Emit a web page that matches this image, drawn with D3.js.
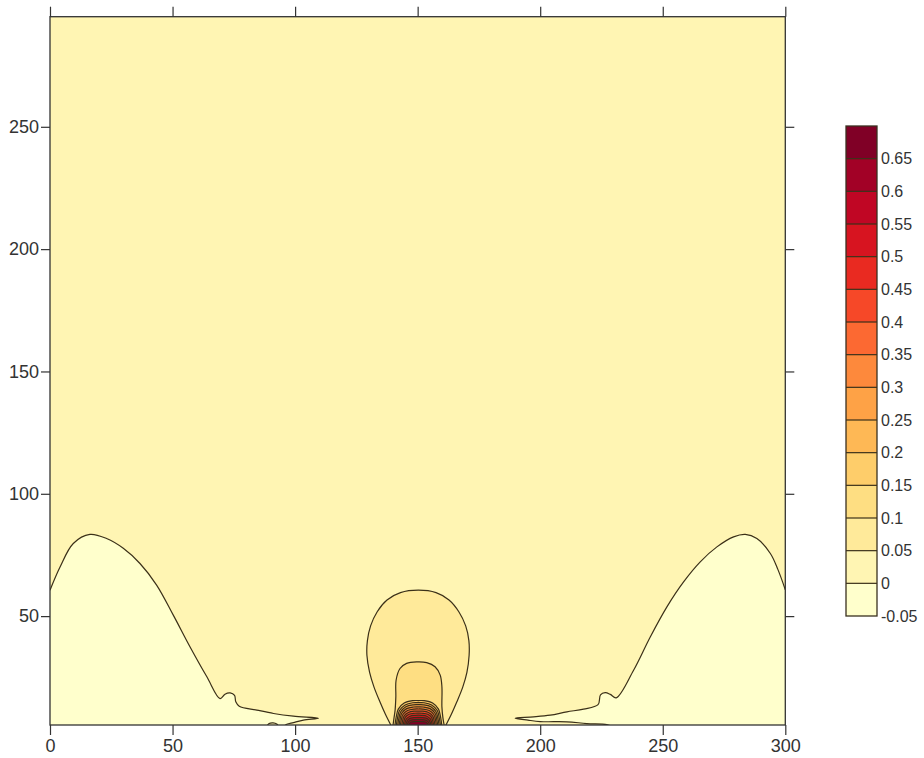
<!DOCTYPE html>
<html>
<head>
<meta charset="utf-8">
<script src="https://cdn.jsdelivr.net/npm/d3@7"></script>
<style>
  body { margin: 0; background: #fff; }
  svg text { font-family: "Liberation Sans", Arial, sans-serif; fill: #333; }
</style>
</head>
<body>
<svg id="chart" width="924" height="758"></svg>
<script>
// Axis ticks
const xTicks = [0, 50, 100, 150, 200, 250, 300];
const yTicks = [50, 100, 150, 200, 250];

// Contour level boundaries of the colour scale
const levels = [-0.05, 0, 0.05, 0.1, 0.15, 0.2, 0.25, 0.3, 0.35, 0.4, 0.45, 0.5, 0.55, 0.6, 0.65, 0.7];
const colorTicks = [-0.05, 0, 0.05, 0.1, 0.15, 0.2, 0.25, 0.3, 0.35, 0.4, 0.45, 0.5, 0.55, 0.6, 0.65];

// Zero contour on the left side (x, y)
const leftZero = [
  [0, 60.6], [4.1, 70.1], [9.5, 79.7], [16.3, 83.4], [23.1, 81.7], [29.9, 77.7],
  [36.7, 71.5], [43.5, 62.7], [50.3, 50.4], [57.1, 37.5], [64, 25.2], [69.4, 16.3],
  [71.4, 18.1], [73.5, 18.6], [75.3, 17.6], [75.8, 15], [77.2, 13.2], [84.4, 11.6],
  [91.2, 10.2], [99.3, 9.1], [109.5, 8.3], [103.4, 7.5], [99.3, 6.5], [96.6, 5.8], [95.5, 5]
];
// Small closed zero contour near the bottom edge
const leftIsland = [[88.5, 5], [89.4, 6.1], [91, 6.35], [92.5, 5.9], [93.2, 5]];

// Zero contour on the right side (x, y)
const rightZero = [
  [300, 60.8], [297, 69], [293.9, 75.6], [288.4, 81.7], [283.7, 83.4], [278.9, 82.4],
  [272.1, 78.3], [265.3, 72.2], [258.5, 64], [251.7, 53.8], [244.9, 41.5], [238.1, 27.9],
  [231, 16.6], [228.6, 18], [226.5, 18.7], [224.6, 17.8], [223.6, 13.8], [217.7, 12],
  [210.9, 10.9], [204.1, 9.5], [197.3, 8.8], [189.8, 8.3], [195, 7.5], [200, 6.9],
  [210.9, 6.8], [219, 6.1], [227.2, 5.7], [229, 5]
];

// Contours around the source at x = 150
const sourceLevels = [0.05, 0.1, 0.15, 0.2, 0.25, 0.3, 0.35, 0.4, 0.45, 0.5, 0.55, 0.6, 0.65];
const sourceOutlines = [
  [[139.3, 5], [136.8, 10], [134.6, 15], [132.2, 21], [130.4, 27], [129.3, 34], [129.5, 40],
   [130.8, 46], [133.5, 51.8], [137.5, 56.6], [143, 59.6], [150.3, 60.6], [157.5, 59.6],
   [162.8, 56.6], [166.8, 51.8], [169.6, 46], [170.9, 40], [171, 34], [170.1, 27],
   [168.4, 21], [166, 15], [163.8, 10], [161.3, 5]],
  [[139.9, 5], [140.3, 8], [140.8, 11.6], [141.1, 17], [141.2, 23.8], [142.8, 28.6],
   [145.5, 30.7], [149.6, 31.3], [153.7, 31], [157.1, 29.3], [159.2, 25.9], [159.9, 21.1],
   [159.9, 12.9], [160.3, 8.5], [160.9, 5]],
  [[140.7, 5], [141.2, 8.5], [142.1, 12], [144.5, 14.5], [147.9, 15.45], [150.3, 15.5],
   [152.7, 15.45], [156.1, 14.5], [158.5, 12], [159.4, 8.5], [159.9, 5]],
  [[141.25, 5], [141.75, 8.2], [142.6, 11.4], [144.9, 13.7], [148, 14.6], [150.3, 14.64],
   [152.6, 14.6], [155.7, 13.7], [158, 11.4], [158.85, 8.2], [159.35, 5]],
  [[141.8, 5], [142.3, 8], [143.1, 10.9], [145.2, 13], [148.2, 13.75], [150.3, 13.8],
   [152.4, 13.75], [155.4, 13], [157.5, 10.9], [158.3, 8], [158.8, 5]],
  [[142.35, 5], [142.8, 7.7], [143.5, 10.3], [145.5, 12.2], [148.3, 12.85], [150.3, 12.9],
   [152.3, 12.85], [155.1, 12.2], [157.1, 10.3], [157.8, 7.7], [158.25, 5]],
  [[142.9, 5], [143.3, 7.5], [144, 9.8], [145.9, 11.4], [148.5, 12], [150.3, 12.05],
   [152.1, 12], [154.7, 11.4], [156.6, 9.8], [157.3, 7.5], [157.7, 5]],
  [[143.45, 5], [143.85, 7.2], [144.5, 9.2], [146.2, 10.6], [148.6, 11.15], [150.3, 11.2],
   [152, 11.15], [154.4, 10.6], [156.1, 9.2], [156.75, 7.2], [157.15, 5]],
  [[144, 5], [144.4, 7], [145, 8.7], [146.5, 9.9], [148.8, 10.3], [150.3, 10.35],
   [151.8, 10.3], [154.1, 9.9], [155.6, 8.7], [156.2, 7], [156.6, 5]],
  [[144.55, 5], [144.9, 6.7], [145.5, 8.1], [146.9, 9.1], [149, 9.45], [150.3, 9.5],
   [151.6, 9.45], [153.7, 9.1], [155.1, 8.1], [155.7, 6.7], [156.05, 5]],
  [[145.1, 5], [145.45, 6.5], [146, 7.55], [147.2, 8.3], [150.3, 8.65], [153.4, 8.3],
   [154.6, 7.55], [155.15, 6.5], [155.5, 5]],
  [[145.65, 5], [146, 6.3], [146.6, 7.1], [147.8, 7.6], [150.3, 7.8], [152.8, 7.6],
   [154, 7.1], [154.6, 6.3], [154.95, 5]],
  [[146.2, 5], [146.6, 6.1], [147.4, 6.7], [150.3, 6.95], [153.2, 6.7], [154, 6.1], [154.4, 5]]
];

const svg = d3.select("#chart");
const lineColor = "#3b3018";

const x = d3.scaleLinear().domain([0, 300]).range([50, 785.3]);
const y = d3.scaleLinear().domain([5.5, 295]).range([725, 16.7]);

// Band colours: one per interval between consecutive levels
const bandColors = d3.range(levels.length - 1).map(i => d3.interpolateYlOrRd(i / (levels.length - 2)));
const bandIndex = lv => Math.round((lv - levels[0]) / 0.05);

const line = d3.line()
  .x(d => x(d[0]))
  .y(d => y(d[1]))
  .curve(d3.curveCatmullRom.alpha(0.5));

svg.append("defs").append("clipPath").attr("id", "plotClip")
  .append("rect")
  .attr("x", x(0)).attr("y", y(295))
  .attr("width", x(300) - x(0)).attr("height", y(5.5) - y(295));

const plot = svg.append("g").attr("clip-path", "url(#plotClip)");

// Background band (0 .. 0.05)
plot.append("rect")
  .attr("x", x(0)).attr("y", y(295))
  .attr("width", x(300) - x(0)).attr("height", y(5.5) - y(295))
  .attr("fill", bandColors[bandIndex(0)]);

// Regions below zero at both sides
function sideFill(pts, edgeX) {
  const first = pts[0], last = pts[pts.length - 1];
  return line(pts) +
    "L" + x(last[0]) + "," + y(2) +
    "L" + x(edgeX) + "," + y(2) +
    "L" + x(edgeX) + "," + y(first[1]) + "Z";
}
plot.append("path").attr("d", sideFill(leftZero, -3)).attr("fill", bandColors[0]);
plot.append("path").attr("d", sideFill(rightZero, 303)).attr("fill", bandColors[0]);
plot.append("path").attr("d", line(leftIsland) + "Z").attr("fill", bandColors[bandIndex(0)]);

// Nested source contours
sourceOutlines.forEach((pts, i) => {
  plot.append("path")
    .attr("d", line(pts) + "Z")
    .attr("fill", bandColors[bandIndex(sourceLevels[i])]);
});

// Contour lines
[leftZero, rightZero, leftIsland, ...sourceOutlines].forEach(pts => {
  plot.append("path")
    .attr("d", line(pts))
    .attr("fill", "none")
    .attr("stroke", lineColor)
    .attr("stroke-width", 1.2);
});

// Frame
svg.append("rect")
  .attr("x", x(0)).attr("y", y(295))
  .attr("width", x(300) - x(0)).attr("height", y(5.5) - y(295))
  .attr("fill", "none").attr("stroke", "#333").attr("stroke-width", 1.3);

function styleAxis(g) {
  g.select(".domain").remove();
  g.selectAll(".tick line").attr("stroke", "#333").attr("stroke-width", 1.2);
  g.selectAll("text").attr("font-size", 18).attr("fill", "#333");
}

svg.append("g").attr("transform", `translate(0,${y(5.5)})`)
  .call(d3.axisBottom(x).tickValues(xTicks).tickSize(10).tickPadding(4).tickFormat(d3.format("d")))
  .call(styleAxis);
svg.append("g").attr("transform", `translate(0,${y(295)})`)
  .call(d3.axisTop(x).tickValues(xTicks).tickSize(10).tickFormat(""))
  .call(styleAxis);
svg.append("g").attr("transform", `translate(${x(0)},0)`)
  .call(d3.axisLeft(y).tickValues(yTicks).tickSize(9).tickPadding(2).tickFormat(d3.format("d")))
  .call(styleAxis);
svg.append("g").attr("transform", `translate(${x(300)},0)`)
  .call(d3.axisRight(y).tickValues(yTicks).tickSize(9).tickFormat(""))
  .call(styleAxis);

// Colour bar
const cb = d3.scaleLinear().domain([levels[0], levels[levels.length - 1]]).range([616, 126]);
const cbX = 846, cbW = 31;
const bar = svg.append("g");
bar.selectAll("rect.band")
  .data(bandColors)
  .join("rect")
  .attr("class", "band")
  .attr("x", cbX)
  .attr("y", (c, i) => cb(levels[i + 1]))
  .attr("width", cbW)
  .attr("height", (c, i) => cb(levels[i]) - cb(levels[i + 1]))
  .attr("fill", c => c);
bar.selectAll("line.sep")
  .data(levels.slice(1, -1))
  .join("line")
  .attr("class", "sep")
  .attr("x1", cbX).attr("x2", cbX + cbW)
  .attr("y1", d => cb(d)).attr("y2", d => cb(d))
  .attr("stroke", lineColor).attr("stroke-width", 1.2);
bar.append("rect")
  .attr("x", cbX).attr("y", cb(levels[levels.length - 1]))
  .attr("width", cbW).attr("height", cb(levels[0]) - cb(levels[levels.length - 1]))
  .attr("fill", "none").attr("stroke", "#3a3020").attr("stroke-width", 1.3);

svg.append("g").attr("transform", `translate(${cbX + cbW},0)`)
  .call(d3.axisRight(cb).tickValues(colorTicks).tickSize(0).tickPadding(4).tickFormat(d => String(d)))
  .call(g => {
    g.select(".domain").remove();
    g.selectAll("text").attr("font-size", 16).attr("fill", "#333");
  });
</script>
</body>
</html>
